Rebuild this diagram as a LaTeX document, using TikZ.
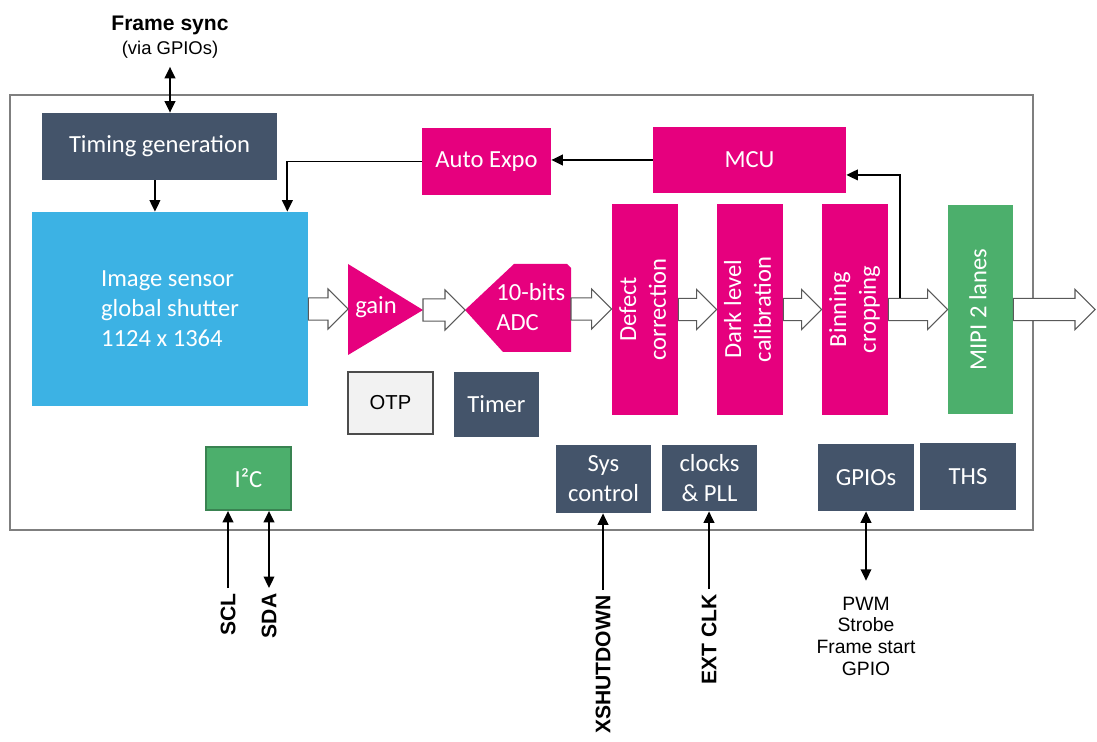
\documentclass[tikz,border=0pt]{standalone}
\usepackage{fontspec}
\usepackage{graphicx}
\setmainfont{Carlito}
\newfontfamily\arialfont{Liberation Sans}
\usetikzlibrary{arrows.meta,calc}

\definecolor{slate}{HTML}{44546A}
\definecolor{ispred}{HTML}{E6007E}
\definecolor{pixblue}{HTML}{3CB2E4}
\definecolor{mipigreen}{HTML}{4CAF6C}
\definecolor{framegray}{HTML}{7F7F7F}

\tikzset{
  sz/.style 2 args={minimum width=#1*0.02cm, minimum height=#2*0.02cm},
  blk/.style={inner sep=0pt, text=white, font=\fontsize{14}{17}\selectfont, align=center},
  darkblk/.style={blk, fill=slate},
  ispblk/.style={blk, fill=ispred},
  greenblk/.style={blk, fill=mipigreen},
  conn/.style={line width=1.1pt, -{Triangle[length=6.5pt,width=6pt]}},
  dconn/.style={line width=1.1pt, {Triangle[length=6.5pt,width=6pt]}-{Triangle[length=6.5pt,width=6pt]}},
  pinlabel/.style={font=\arialfont\bfseries\fontsize{12}{14}\selectfont, rotate=90, anchor=east, inner sep=3pt},
  hollow/.style={draw=black!65, fill=white, line width=0.6pt, line join=miter},
}

% wide hollow arrow between two points, at the height of the first
\newcommand{\fatarrow}[2]{%
  \draw[hollow] let \p1=(#1), \p2=(#2) in
    (\x1,\y1+6.3pt) -- (\x2-11.4pt,\y1+6.3pt) -- (\x2-11.4pt,\y1+11.4pt) -- (\x2,\y1)
    -- (\x2-11.4pt,\y1-11.4pt) -- (\x2-11.4pt,\y1-6.3pt) -- (\x1,\y1-6.3pt) -- cycle;}
\newcommand{\vlabel}[1]{\rotatebox{90}{\begin{tabular}{@{}c@{}}#1\end{tabular}}}

\begin{document}
\begin{tikzpicture}[x=0.02cm,y=-0.02cm]
  \useasboundingbox (0,0) rectangle (1097,742);

  % chip outline
  \draw[framegray, line width=1pt] (10,95) rectangle (1033,530);

  % control blocks
  \node[darkblk, sz={235}{67}] (timing) at (159.5,146.5) {Timing generation};
  \node[blk, fill=pixblue, sz={276}{194}, align=left] (sensor) at (170,309) {Image sensor\\global shutter\\1124 x 1364};
  \node[ispblk, sz={129}{67}] (ae) at (486.5,161.5) {Auto Expo};
  \node[ispblk, sz={193}{66}] (mcu) at (749.5,160) {MCU};

  % analog chain
  \fill[ispred] (348,264) -- (423,310) -- (348,355) -- cycle;
  \coordinate (gainin) at (348,310);
  \coordinate (gaintip) at (423,310);
  \node[blk] (gain) at (376,307) {gain};
  \fill[ispred] (465,310) -- (514,264) -- (567,264) -- (571,268) -- (571,352) -- (503,352) -- cycle;
  \coordinate (adcin) at (465,310);
  \coordinate (adcout) at (571,309);
  \node[blk, align=left, anchor=west] (adc) at (496,307) {10-bits\\ADC};

  % digital pipeline
  \node[ispblk, sz={66}{211}] (defect) at (645,309.5) {\vlabel{Defect\\correction}};
  \node[ispblk, sz={66}{211}] (dark) at (750,309.5) {\vlabel{Dark level\\calibration}};
  \node[ispblk, sz={66}{211}] (binning) at (855,309.5) {\vlabel{Binning\\cropping}};
  \node[greenblk, sz={65}{209}] (mipi) at (980.5,309.5) {\vlabel{MIPI 2 lanes}};
  \coordinate (out) at (1095,309);

  \node[blk, sz={85}{62}, fill=black!5, draw=black!70, line width=0.8pt, text=black,
        font=\arialfont\fontsize{11.5}{13}\selectfont] (otp) at (390.5,403) {OTP};
  \node[darkblk, sz={85}{65}] (timer) at (496.5,404.5) {Timer};

  % interface blocks
  \node[greenblk, sz={85}{63}, draw=mipigreen!75!black, line width=1pt] (i2c) at (248.5,478.5) {I²C};
  \node[darkblk, sz={95}{68}] (sys) at (603.5,479) {Sys\\control};
  \node[darkblk, sz={95}{66}] (clk) at (709.5,478) {clocks\\\& PLL};
  \node[darkblk, sz={96}{67}] (gpio) at (866,477.5) {GPIOs};
  \node[darkblk, sz={96}{67}] (ths) at (968,476.5) {THS};

  % data path
  \fatarrow{sensor.east}{gainin}
  \fatarrow{gaintip}{adcin}
  \fatarrow{adcout}{defect.west}
  \fatarrow{defect.east}{dark.west}
  \fatarrow{dark.east}{binning.west}
  \fatarrow{binning.east}{mipi.west}
  \fatarrow{mipi.east}{out}

  % control connections
  \coordinate (tap) at (900,298);
  \draw[conn] (tap) |- ([yshift=-8.5pt]mcu.east);
  \draw[conn] (mcu.west) -- (mcu.west -| ae.east);
  \draw[conn] (ae.west) -| ($(sensor.north east)+(-21,0)$);
  \draw[conn] ([xshift=-2.6pt]timing.south) -- ([xshift=-2.6pt]timing.south |- sensor.north);

  % external signals
  \node[align=center, font=\arialfont] (fsync) at (170,37)
    {{\bfseries\fontsize{12}{14}\selectfont Frame sync}\\[1.5pt]{\fontsize{10.5}{13}\selectfont (via GPIOs)}};
  \draw[dconn] ([yshift=-1.5pt]fsync.south) -- (fsync.south |- timing.north);

  \node[pinlabel] (scl) at (228,588) {SCL};
  \node[pinlabel] (sda) at (269,588) {SDA};
  \node[pinlabel] (xsd) at (603,590) {XSHUTDOWN};
  \node[pinlabel] (extclk) at (709,589) {EXT CLK};
  \node[align=center, anchor=north, inner sep=2pt, font=\arialfont\fontsize{11}{12.4}\selectfont]
    (gpiosig) at (866,593) {PWM\\Strobe\\Frame start\\GPIO};

  \draw[conn] (scl.east) -- (scl.east |- i2c.south);
  \draw[dconn] (sda.east) -- (sda.east |- i2c.south);
  \draw[conn] (xsd.east) -- (xsd.east |- sys.south);
  \draw[conn] (extclk.east) -- (extclk.east |- clk.south);
  \draw[dconn] ([yshift=7pt]gpiosig.north) -- (gpiosig.north |- gpio.south);
\end{tikzpicture}
\end{document}
